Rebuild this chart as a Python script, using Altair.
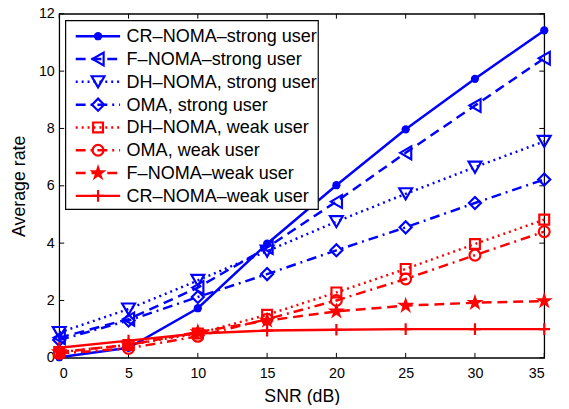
import altair as alt
import pandas as pd

snr = [0, 5, 10, 15, 20, 25, 30, 35]
cr_strong = [0.02, 0.35, 1.73, 3.98, 6.02, 7.97, 9.73, 11.42]
f_strong = [0.70, 1.35, 2.45, 3.85, 5.45, 7.15, 8.80, 10.45]
dh_strong = [0.88, 1.70, 2.70, 3.72, 4.75, 5.72, 6.65, 7.55]
oma_strong = [0.62, 1.30, 2.12, 2.92, 3.75, 4.55, 5.40, 6.22]
dh_weak = [0.20, 0.45, 0.85, 1.50, 2.28, 3.10, 3.97, 4.82]
oma_weak = [0.15, 0.33, 0.75, 1.35, 2.00, 2.75, 3.58, 4.40]
f_weak = [0.20, 0.45, 0.90, 1.30, 1.62, 1.82, 1.92, 1.98]
cr_weak = [0.35, 0.60, 0.85, 0.95, 0.98, 1.00, 1.00, 1.00]

labels = [
    "CR\u2013NOMA\u2013strong user",
    "F\u2013NOMA\u2013strong user",
    "DH\u2013NOMA, strong user",
    "OMA, strong user",
    "DH\u2013NOMA, weak user",
    "OMA, weak user",
    "F\u2013NOMA\u2013weak user",
    "CR\u2013NOMA\u2013weak user",
]
series_values = [cr_strong, f_strong, dh_strong, oma_strong, dh_weak, oma_weak, f_weak, cr_weak]

x_ticks = [0, 5, 10, 15, 20, 25, 30, 35]
y_ticks = [0, 2, 4, 6, 8, 10, 12]

# styles
colors = ["#0000FF"] * 4 + ["#FF0000"] * 4
dashes = [None, [10, 6], [2, 4], [10, 5, 2, 5], [2, 4], [10, 5, 2, 5], [10, 6], None]
plus_path = "M-1,0L1,0M0,-1L0,1"
star_path = ("M0,-1L0.225,-0.309L0.951,-0.309L0.363,0.118L0.588,0.809L0,0.382"
             "L-0.588,0.809L-0.363,0.118L-0.951,-0.309L-0.225,-0.309Z")
shapes = ["circle", "triangle-left", "triangle-down", "diamond", "square", "circle", star_path, plus_path]
filled = [True, False, False, False, False, False, True, False]
sizes = [70, 170, 170, 150, 100, 120, 330, 140]

W, H = 492, 349
FONT = "Liberation Sans"

xs = alt.Scale(domain=[0, 35], nice=False, zero=False)
ys = alt.Scale(domain=[0, 12], nice=False, zero=False)

x_axis = alt.Axis(
    title="SNR (dB)", values=x_ticks, ticks=False, domain=False, grid=False,
    labelFontSize=14.5, titleFontSize=18, labelPadding=9, titlePadding=8,
    labelColor="black", titleColor="black", labelFont=FONT, titleFont=FONT,
    titleFontWeight="normal")
y_axis = alt.Axis(
    title="Average rate", values=y_ticks, ticks=False, domain=False, grid=False,
    labelFontSize=14.5, titleFontSize=18, labelPadding=5, titlePadding=10,
    labelColor="black", titleColor="black", labelFont=FONT, titleFont=FONT,
    titleFontWeight="normal")

layers = []
# inward ticks on all four sides, and axes
xt = pd.DataFrame({"t": x_ticks})
yt = pd.DataFrame({"t": y_ticks})
layers.append(alt.Chart(xt).mark_rule(color="black", strokeWidth=1).encode(
    x=alt.X("t:Q", scale=xs, axis=x_axis), y=alt.value(H), y2=alt.value(H - 5)))
layers.append(alt.Chart(xt).mark_rule(color="black", strokeWidth=1).encode(
    x=alt.X("t:Q", scale=xs), y=alt.value(0), y2=alt.value(5)))
layers.append(alt.Chart(yt).mark_rule(color="black", strokeWidth=1).encode(
    y=alt.Y("t:Q", scale=ys, axis=y_axis), x=alt.value(0), x2=alt.value(5)))
layers.append(alt.Chart(yt).mark_rule(color="black", strokeWidth=1).encode(
    y=alt.Y("t:Q", scale=ys), x=alt.value(W), x2=alt.value(W - 5)))

for lab, vals, c, d, sh, f, sz in zip(labels, series_values, colors, dashes, shapes, filled, sizes):
    sdf = pd.DataFrame({"snr": snr, "rate": vals, "series": lab})
    lk = dict(strokeWidth=2.5, color=c)
    if d is not None:
        lk["strokeDash"] = d
    layers.append(alt.Chart(sdf).mark_line(**lk).encode(
        x=alt.X("snr:Q", scale=xs), y=alt.Y("rate:Q", scale=ys)))
    layers.append(alt.Chart(sdf).mark_point(shape=sh, filled=f, size=sz, color=c,
                                            strokeWidth=2.2, opacity=1).encode(
        x=alt.X("snr:Q", scale=xs), y=alt.Y("rate:Q", scale=ys)))

# legend (placed in data coordinates inside the axes)
leg_box = pd.DataFrame([{"x1": 0.46, "x2": 18.69, "y1": 5.18, "y2": 11.76}])
layers.append(alt.Chart(leg_box).mark_rect(fill="white", stroke="black", strokeWidth=1.2).encode(
    x=alt.X("x1:Q", scale=xs), x2="x2:Q", y=alt.Y("y1:Q", scale=ys), y2="y2:Q"))

for i, (lab, c, d, sh, f, sz) in enumerate(zip(labels, colors, dashes, shapes, filled, sizes)):
    yrow = 11.217 - 0.7955 * i
    ldf = pd.DataFrame([{"series": lab, "lx1": 1.19, "lx2": 4.39, "mx": 2.80, "tx": 4.86, "ly": yrow}])
    rk = dict(strokeWidth=2.5, color=c)
    if d is not None:
        rk["strokeDash"] = d
    layers.append(alt.Chart(ldf).mark_rule(**rk).encode(
        x=alt.X("lx1:Q", scale=xs), x2="lx2:Q", y=alt.Y("ly:Q", scale=ys)))
    layers.append(alt.Chart(ldf).mark_point(shape=sh, filled=f, size=sz, color=c,
                                            strokeWidth=2.2, opacity=1).encode(
        x=alt.X("mx:Q", scale=xs), y=alt.Y("ly:Q", scale=ys)))
    layers.append(alt.Chart(ldf).mark_text(align="left", baseline="middle", fontSize=18.3,
                                           font=FONT, color="black", dy=1).encode(
        x=alt.X("tx:Q", scale=xs), y=alt.Y("ly:Q", scale=ys), text="series:N"))

chart = alt.layer(*layers).properties(
    width=W, height=H,
    autosize=alt.AutoSizeParams(type="none"),
    padding={"left": 52, "top": 3, "right": 17, "bottom": 45},
    background="white",
).configure_view(
    stroke="black", strokeWidth=1.3
)

chart.save("out.html", embed_options={"renderer": "svg", "actions": False})
